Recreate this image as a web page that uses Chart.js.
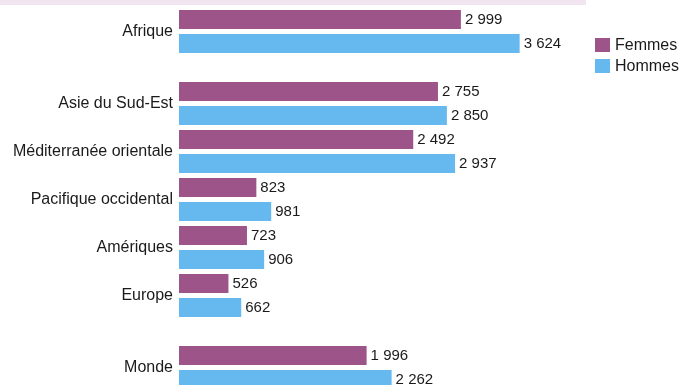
<!DOCTYPE html>
<html lang="fr">
<head>
<meta charset="utf-8">
<title>Femmes / Hommes par région</title>
<script src="https://cdn.jsdelivr.net/npm/chart.js@4/dist/chart.umd.min.js"></script>
<style>
    body { margin: 0; background: #ffffff; }
    #boite { position: relative; width: 680px; height: 385px; overflow: hidden; }
</style>
</head>
<body>
<div id="boite"><canvas id="graphique"></canvas></div>
<script>
// Données
const regions = ['Afrique', 'Asie du Sud-Est', 'Méditerranée orientale', 'Pacifique occidental', 'Amériques', 'Europe', 'Monde'];
const femmes = [2999, 2755, 2492, 823, 723, 526, 1996];
const hommes = [3624, 2850, 2937, 981, 906, 662, 2262];
const series = ['Femmes', 'Hommes'];

// Mise en page : un demi-rang vide après ces régions
const espaceApres = ['Afrique', 'Europe'];
const couleurs = ['#9c5489', '#66b9ee'];
const police = '"Liberation Sans", Arial, sans-serif';
const couleurTexte = '#1a1a1a';

// Position de chaque région sur l'axe vertical
let rangs = [];
let pos = 0;
regions.forEach(r => {
    rangs.push(pos);
    pos += espaceApres.includes(r) ? 1.5 : 1;
});

function formatNombre(v) {
    return String(v).replace(/\B(?=(\d{3})+(?!\d))/g, ' ');
}

// Bandeau du titre (coupé en haut de l'image)
const bandeau = {
    id: 'bandeau',
    beforeDraw(chart) {
        const ctx = chart.ctx;
        ctx.save();
        ctx.fillStyle = '#f1e5f1';
        ctx.fillRect(0, 0, 586, 5);
        ctx.restore();
    }
};

// Valeurs au bout des barres
const etiquettes = {
    id: 'etiquettes',
    afterDatasetsDraw(chart) {
        const ctx = chart.ctx;
        ctx.save();
        ctx.font = '15px ' + police;
        ctx.fillStyle = couleurTexte;
        ctx.textAlign = 'left';
        ctx.textBaseline = 'middle';
        chart.data.datasets.forEach((ds, i) => {
            chart.getDatasetMeta(i).data.forEach((barre, j) => {
                ctx.fillText(formatNombre(ds.data[j].x), barre.x + 4, barre.y);
            });
        });
        ctx.restore();
    }
};

// Légende à droite
const legende = {
    id: 'legende',
    afterDraw(chart) {
        const ctx = chart.ctx;
        ctx.save();
        ctx.font = '16px ' + police;
        ctx.textBaseline = 'middle';
        chart.data.datasets.forEach((ds, i) => {
            const y = 38 + i * 21;
            ctx.fillStyle = ds.backgroundColor;
            ctx.fillRect(595, y, 15, 14);
            ctx.fillStyle = couleurTexte;
            ctx.fillText(ds.label, 615, y + 7.5);
        });
        ctx.restore();
    }
};

const ctx = document.getElementById('graphique').getContext('2d');
new Chart(ctx, {
    type: 'bar',
    data: {
        datasets: [
            {
                label: series[0],
                data: femmes.map((v, i) => ({ x: v, y: rangs[i] })),
                backgroundColor: couleurs[0]
            },
            {
                label: series[1],
                data: hommes.map((v, i) => ({ x: v, y: rangs[i] })),
                backgroundColor: couleurs[1]
            }
        ]
    },
    options: {
        indexAxis: 'y',
        responsive: true,
        maintainAspectRatio: false,
        animation: false,
        categoryPercentage: 1,
        barPercentage: 0.8,
        layout: { padding: { top: 7.5, right: 0, bottom: 0, left: 0 } },
        scales: {
            x: {
                display: false,
                min: 0,
                max: 5330
            },
            y: {
                type: 'linear',
                reverse: true,
                offset: false,
                min: -0.5,
                max: -0.5 + 377.5 / 48,
                grid: { display: false, drawTicks: false },
                border: { display: false },
                afterBuildTicks(axe) {
                    axe.ticks = rangs.map(v => ({ value: v }));
                },
                afterFit(axe) {
                    axe.width = 179;
                    axe.paddingTop = 0;
                    axe.paddingBottom = 0;
                },
                ticks: {
                    autoSkip: false,
                    padding: 6,
                    color: couleurTexte,
                    font: { family: police, size: 16 },
                    callback: (valeur, index) => regions[index]
                }
            }
        },
        plugins: {
            legend: { display: false },
            tooltip: { enabled: false }
        }
    },
    plugins: [bandeau, etiquettes, legende]
});
</script>
</body>
</html>
